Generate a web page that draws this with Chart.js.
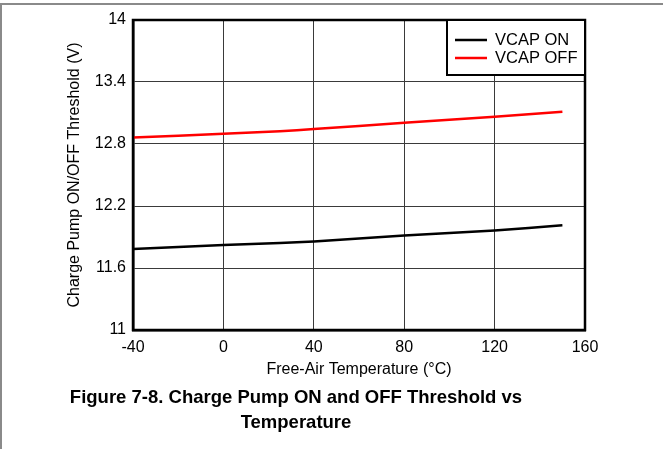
<!DOCTYPE html>
<html>
<head>
<meta charset="utf-8">
<script src="https://cdn.jsdelivr.net/npm/chart.js@4/dist/chart.umd.min.js"></script>
<style>
  html, body { margin: 0; padding: 0; background: #fff; }
  #wrap { position: relative; width: 663px; height: 449px; overflow: hidden; }
  #frame { position: absolute; left: 0; top: 3px; width: 663px; height: 446px;
           border-top: 2px solid #8a8a8a; border-left: 2px solid #8a8a8a; box-sizing: border-box; }
  canvas { position: absolute; left: 0; top: 0; }
  #caption { position: absolute; left: 0; top: 384px; width: 592px; text-align: center;
             font: bold 18.5px "Liberation Sans", Arial, sans-serif; line-height: 25px; color: #000; }
</style>
</head>
<body>
<div id="wrap">
  <div id="frame"></div>
  <canvas id="c" width="663" height="449"></canvas>
  <div id="caption">Figure 7-8. Charge Pump ON and OFF Threshold vs<br>Temperature</div>
</div>
<script>
const temperatures = [-40, 0, 25, 40, 80, 120, 150];
const vcapOn  = [11.783, 11.822, 11.841, 11.857, 11.915, 11.962, 12.013];
const vcapOff = [12.862, 12.900, 12.923, 12.945, 13.005, 13.063, 13.113];
const xTicks = [-40, 0, 40, 80, 120, 160];
const yTicks = [11, 11.6, 12.2, 12.8, 13.4, 14];
const seriesNames = ['VCAP ON', 'VCAP OFF'];
const xTitle = 'Free-Air Temperature (\u00B0C)';
const yTitle = 'Charge Pump ON/OFF Threshold (V)';

const FONT = "'Liberation Sans', Arial, sans-serif";

const framePlugin = {
  id: 'frameAndLegend',
  afterDraw(chart) {
    const ctx = chart.ctx, a = chart.chartArea;
    ctx.save();
    ctx.strokeStyle = '#000';
    ctx.lineWidth = 2.5;
    ctx.strokeRect(a.left, a.top, a.right - a.left, a.bottom - a.top);
    const w = 138, h = 55;
    const x0 = a.right - w, y0 = a.top;
    ctx.fillStyle = '#fff';
    ctx.fillRect(x0, y0, w, h);
    ctx.lineWidth = 2;
    ctx.strokeRect(x0, y0, w, h);
    ctx.font = '16.5px ' + FONT;
    ctx.textBaseline = 'middle';
    ctx.textAlign = 'left';
    chart.data.datasets.forEach((ds, i) => {
      const y = y0 + 20 + i * 18;
      ctx.strokeStyle = ds.borderColor;
      ctx.lineWidth = 2.5;
      ctx.beginPath();
      ctx.moveTo(x0 + 8, y);
      ctx.lineTo(x0 + 40, y);
      ctx.stroke();
      ctx.fillStyle = '#000';
      ctx.fillText(ds.label, x0 + 48, y);
    });
    ctx.restore();
  }
};

new Chart(document.getElementById('c'), {
  type: 'line',
  data: {
    datasets: [
      { label: seriesNames[0], data: temperatures.map((t, i) => ({x: t, y: vcapOn[i]})),
        borderColor: '#000000', borderWidth: 2.5, pointRadius: 0, tension: 0.2, fill: false },
      { label: seriesNames[1], data: temperatures.map((t, i) => ({x: t, y: vcapOff[i]})),
        borderColor: '#ff0000', borderWidth: 2.5, pointRadius: 0, tension: 0.2, fill: false }
    ]
  },
  options: {
    responsive: false,
    animation: false,
    devicePixelRatio: 1,
    layout: { padding: { left: 0, top: 20, right: 78, bottom: 0 } },
    plugins: { legend: { display: false }, tooltip: { enabled: false }, title: { display: false } },
    scales: {
      x: {
        type: 'linear', min: -40, max: 160,
        afterFit(s) { s.height = 119; },
        afterBuildTicks(s) { s.ticks = xTicks.map(v => ({value: v})); },
        ticks: { color: '#000', font: { family: FONT, size: 16 }, padding: 8,
                 callback: (v) => String(v), maxRotation: 0 },
        grid: { color: '#3a3a3a', lineWidth: 1, drawTicks: false },
        border: { display: true, color: '#000', width: 2.5 },
        title: { display: true, text: xTitle, color: '#000', font: { family: FONT, size: 16 },
                 padding: { top: 0, bottom: 70 } }
      },
      y: {
        type: 'linear', min: 11, max: 14,
        afterFit(s) { s.width = 133; },
        afterBuildTicks(s) { s.ticks = yTicks.map(v => ({value: v})); },
        ticks: { color: '#000', font: { family: FONT, size: 16 }, padding: 7,
                 callback: (v) => String(v) },
        grid: { color: '#3a3a3a', lineWidth: 1, drawTicks: false },
        border: { display: true, color: '#000', width: 2.5 },
        title: { display: true, text: yTitle, color: '#000', font: { family: FONT, size: 16 },
                 padding: { top: 65, bottom: 0 } }
      }
    }
  },
  plugins: [framePlugin]
});
</script>
</body>
</html>
